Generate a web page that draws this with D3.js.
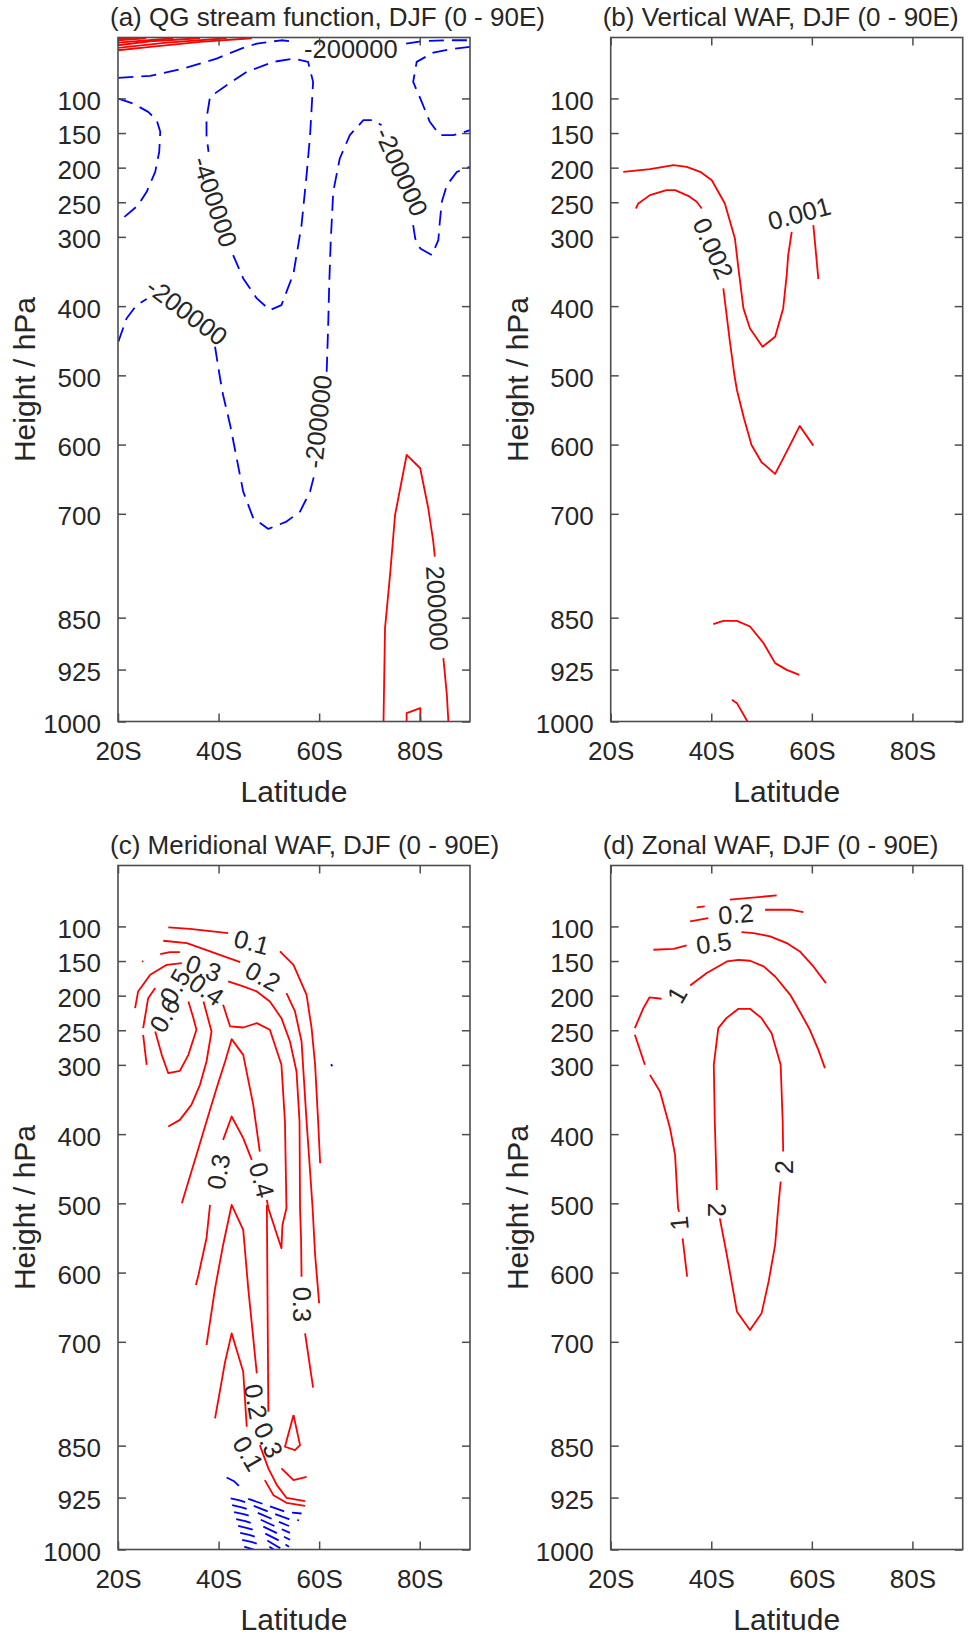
<!DOCTYPE html>
<html>
<head>
<meta charset="utf-8">
<script src="https://cdn.jsdelivr.net/npm/d3@7"></script>
<style>
  html, body { margin: 0; padding: 0; background: #fff; }
  svg { display: block; }
  text { font-family: "Liberation Sans", Arial, Helvetica, sans-serif; fill: #262626; }
</style>
</head>
<body>
<svg id="fig" width="968" height="1635"></svg>
<script>
// ---- axis definitions ----
const pressureTicks = [100, 150, 200, 250, 300, 400, 500, 600, 700, 850, 925, 1000];
const latTicks = [20, 40, 60, 80];
const latTickLabels = ["20S", "40S", "60S", "80S"];
const latRange = [20, 90];
const pressureRange = [12, 1000];

const panelTitles = [
  "(a) QG stream function, DJF (0 - 90E)",
  "(b) Vertical WAF, DJF (0 - 90E)",
  "(c) Meridional WAF, DJF (0 - 90E)",
  "(d) Zonal WAF, DJF (0 - 90E)"
];

// ---- contour lines: level + vertices [latitude (deg S), pressure (hPa)] ----
// (a) QG stream function
const psiLines = [
  { level: 200000,  pts: [[20, 30.4], [26.4, 25.6], [36.3, 18.4], [46.6, 13.1]] },
  { level: 400000,  pts: [[20, 27.0], [29.7, 19.3], [41.6, 13.1]] },
  { level: 600000,  pts: [[20, 23.2], [26.4, 17.4], [36.3, 13.1]] },
  { level: 800000,  pts: [[20, 19.3], [31.0, 13.1]] },
  { level: 1000000, pts: [[20, 16.0], [25.6, 13.1]] },
  { level: 1200000, pts: [[20, 14.0], [23.0, 12.6]] },
  { level: -200000, pts: [[20.07, 70.3], [26.4, 67.4], [33.0, 56.9], [39.6, 42.4], [44.9, 27.0], [47.6, 20.8], [52.5, 16.0], [55.5, 18.5]] },
  { level: -200000, pts: [[77.3, 21.0], [80.4, 17.4], [85.4, 16.0], [90, 16.0]] },
  { level: -200000, pts: [[90, 25.6], [86.0, 29.0], [82.7, 33.8], [79.4, 47.2], [78.7, 76.1], [80.4, 105.0], [82.0, 133.8], [84.0, 153.1], [86.7, 153.1], [90, 145.9]] },
  { level: -200000, pts: [[20.07, 100.2], [23.0, 107.4], [26.0, 119.4], [27.7, 131.4], [28.4, 148.3], [28.2, 177.2], [27.4, 206.0], [25.7, 234.9], [24.0, 254.2], [21.7, 268.6], [20.07, 278.2]] },
  { level: -400000, pts: [[42.9, 326.3], [44.9, 360], [47.6, 388.9], [50.2, 405.7], [52.5, 398.5], [54.9, 352.8], [56.5, 283.0], [57.5, 210.8], [58.2, 153.1], [58.8, 76.1], [57.8, 47.2], [54.9, 42.4], [50.9, 47.2], [45.6, 61.7], [41.6, 80.9], [38.3, 97.8], [37.6, 129.0], [37.6, 153.1], [38.0, 177.2]] },
  { level: -200000, pts: [[20.07, 451.4], [21.7, 417.8], [23.7, 398.5], [25.7, 389.8]] },
  { level: -200000, pts: [[39.3, 458.7], [40.3, 504.4], [40.9, 528.4], [42.3, 571.7], [43.6, 619.8], [44.9, 667.9], [46.9, 706.4], [49.9, 721.8], [53.5, 711.2], [56.2, 696.8], [58.2, 667.9], [59.2, 639.0]] },
  { level: -200000, pts: [[61.5, 494.7], [61.8, 427.4], [62.0, 369.6], [62.3, 307.1], [62.8, 234.9], [64.1, 186.8], [66.1, 153.1], [68.8, 131.4], [70.8, 131.4], [72.4, 138.7]] },
  { level: -200000, pts: [[78.7, 283.0], [79.1, 302.3], [80.1, 316.7], [82.4, 326.3], [83.7, 304.7], [84.0, 278.2], [84.4, 249.3], [85.4, 225.3], [87.4, 206.0], [90, 198.8]] },
  { level: 200000,  pts: [[72.8, 1000], [73.1, 865.2], [74.1, 788.2], [75.1, 701.6], [77.4, 615.0], [80.1, 634.2], [81.7, 692.0], [82.7, 740.1], [83.0, 761.8]] },
  { level: 200000,  pts: [[84.7, 908.5], [85.4, 961.5], [85.7, 1000]] },
  { level: 400000,  pts: [[77.4, 1000], [77.4, 987.9], [80.1, 980.7], [80.2, 1000]] }
];
const psiLabels = [
  { level: -200000, lat: 66.3, p: 28.5, angle: 0 },
  { level: -400000, lat: 39.3, p: 249.3, angle: 72 },
  { level: -200000, lat: 33.7, p: 408.1, angle: 37 },
  { level: -200000, lat: 59.8, p: 566.9, angle: -84 },
  { level: -200000, lat: 76.4, p: 206.0, angle: 66 },
  { level: 200000,  lat: 83.5, p: 836.3, angle: 87 }
];

// (b) vertical wave-activity flux
const fzLines = [
  { level: 0.001, pts: [[22.5, 206.0], [27.8, 202.2], [32.5, 196.4], [35.1, 198.8], [37.8, 206.0], [40.1, 218.1], [42.7, 251.7], [44.7, 302.3], [45.4, 345.6], [46.4, 403.3], [47.7, 432.2], [50.2, 458.7], [52.7, 444.2], [54.3, 403.3], [55.0, 355.2], [55.3, 326.3], [56.0, 292.6]] },
  { level: 0.001, pts: [[60.3, 283.0], [61.3, 361.0]] },
  { level: 0.002, pts: [[25.0, 259], [25.5, 251.7], [27.8, 239.7], [31.1, 232.5], [32.8, 232.5], [35.4, 240.7], [37.1, 249.3], [38.1, 259.0]] },
  { level: 0.002, pts: [[42.4, 374.5], [43.7, 451.4], [44.6, 499.5], [45.1, 521.2], [46.5, 562.1], [48.0, 600.6], [50.0, 625.6], [52.7, 642.4], [55.0, 610.2], [57.6, 573.1], [60.3, 601.5]] },
  { level: 0.001, pts: [[40.4, 859.4], [42.4, 854.6], [45.1, 854.6], [47.7, 862.8], [50.4, 886.9], [52.7, 915.7], [55.0, 925.4], [57.5, 932.6]] },
  { level: 0.001, pts: [[44.1, 968.7], [45.1, 973.5], [47.2, 1000]] }
];
const fzLabels = [
  { level: 0.001, lat: 57.5, p: 266.2, angle: -15 },
  { level: 0.002, lat: 40.4, p: 316.7, angle: 66 }
];

// (c) meridional wave-activity flux
const fyLines = [
  { level: 0.1, pts: [[30.0, 101.4], [34.3, 103.4], [41.9, 109.6]] },
  { level: 0.1, pts: [[52.2, 136.1], [54.9, 155.4], [57.5, 198.8], [58.5, 246.9], [59.2, 299.9], [59.8, 381.8], [60.2, 442.1]] },
  { level: 0.2, pts: [[29.0, 120.7], [33.7, 124.1], [38.3, 136.1], [44.3, 151.5]] },
  { level: 0.2, pts: [[53.5, 196.3], [55.2, 222.8], [56.5, 266.2], [57.0, 324.0], [57.5, 381.8], [58.2, 454.1], [58.7, 507.1], [59.2, 574.6], [60.0, 644.4]] },
  { level: 0.3, pts: [[28.4, 140.0], [30.3, 137.1], [32.3, 137.1]] },
  { level: 0.3, pts: [[41.9, 179.5], [44.9, 186.7], [47.6, 193.9], [50.2, 208.4], [52.5, 232.5], [54.2, 266.2], [55.5, 309.6], [56.1, 381.8], [56.2, 507.1], [56.4, 550.5], [56.5, 605.9]] },
  { level: 0.3, pts: [[57.2, 687.8], [58.8, 766.3]] },
  { level: 0.5, pts: [[23.4, 218.0], [24.0, 193.9], [26.4, 169.8], [29.7, 155.4], [32.7, 153.0]] },
  { level: 0.5, pts: [[24.8, 149.8], [25.0, 151.2]] },
  { level: 0.6, pts: [[25.0, 246.9], [26.0, 203.6], [27.4, 189.1]] },
  { level: 0.6, pts: [[25.0, 256.6], [25.7, 299.9]] },
  { level: 0.7, pts: [[34.0, 208.4], [35.0, 232.5], [35.6, 249.3], [34.0, 285.5], [32.3, 308.6], [30.0, 312.0], [28.7, 285.5], [27.4, 251.8]] },
  { level: 0.4, pts: [[37.0, 208.4], [38.6, 251.8], [37.6, 295.1], [36.3, 328.8], [34.6, 357.8], [32.3, 379.4], [30.0, 389.1]] },
  { level: 0.4, pts: [[40.9, 213.2], [42.3, 244.5], [44.9, 246.0], [47.6, 239.7], [50.2, 249.3], [52.5, 299.9], [53.2, 381.8], [53.5, 507.1], [52.7, 531.2], [52.5, 564.9], [49.9, 507.1], [49.6, 495]] },
  { level: 0.4, pts: [[32.7, 499.9], [34.0, 468.6], [35.6, 430.0], [37.6, 381.8], [39.6, 333.7], [41.3, 295.1], [42.6, 262.8], [44.9, 285.5], [46.9, 357.8], [48.2, 425.2]] },
  { level: 0.3, pts: [[40.9, 408.3], [42.6, 374.6], [44.9, 405.9], [46.6, 437.2]] },
  { level: 0.3, pts: [[38.3, 502.3], [37.6, 550.5], [36.0, 603.5], [35.5, 618.0]] },
  { level: 0.2, pts: [[37.6, 704.7], [39.3, 622.8], [40.9, 560.1], [42.6, 502.3], [44.9, 538.4], [45.9, 622.8], [46.9, 695.0], [47.6, 745.6]] },
  { level: 0.2, pts: [[39.3, 810.7], [41.3, 728.7], [42.6, 687.8], [44.9, 743.2], [45.6, 822.7]] },
  { level: 0.3, pts: [[49.6, 502.3], [49.9, 801.0]] },
  { level: 0.1, pts: [[48.2, 849.2], [49.9, 882.9], [51.6, 907.0], [53.5, 925.3], [57.2, 930.1]] },
  { level: 0.1, pts: [[49.2, 899.8], [50.9, 921.5], [53.5, 932.5], [57.2, 936.9]] },
  { level: 0.3, pts: [[54.9, 805.8], [56.2, 849.2], [55.2, 856.4], [53.2, 851.6], [54.9, 805.8]] },
  { level: 0.2, pts: [[52.5, 882.9], [54.9, 899.8], [57.5, 895.0]] },
  // negative (equatorward) flux near the surface
  { level: -0.1, pts: [[62.4, 299], [62.6, 302]] },
  { level: -0.1, pts: [[41.6, 896.0], [43.0, 901.0], [44.6, 911.9]] },
  { level: -0.2, pts: [[42.4, 926], [44.2, 929], [46.0, 933]] },
  { level: -0.3, pts: [[42.7, 936], [44.6, 939], [46.4, 943]] },
  { level: -0.4, pts: [[43.1, 946], [45.0, 949], [46.8, 953]] },
  { level: -0.5, pts: [[43.5, 956], [45.3, 959], [47.1, 963]] },
  { level: -0.6, pts: [[43.9, 966], [45.7, 969], [47.5, 973]] },
  { level: -0.7, pts: [[44.3, 976], [46.1, 979], [47.9, 983]] },
  { level: -0.8, pts: [[44.7, 986], [46.5, 989], [48.3, 993]] },
  { level: -0.9, pts: [[45.1, 996], [46.5, 999], [47.0, 1000]] },
  { level: -0.2, pts: [[45.9, 927], [50.0, 937], [53.5, 946], [56.5, 948]] },
  { level: -0.3, pts: [[47.0, 937], [50.5, 947], [54.0, 956], [56.0, 958]] },
  { level: -0.4, pts: [[47.8, 947], [51.0, 957], [54.0, 966]] },
  { level: -0.5, pts: [[48.4, 957], [51.4, 967], [54.2, 976]] },
  { level: -0.6, pts: [[48.9, 967], [51.8, 977], [54.2, 986]] },
  { level: -0.7, pts: [[49.3, 977], [52.0, 987], [54.0, 996]] },
  { level: -0.8, pts: [[49.7, 987], [52.0, 997], [52.8, 1000]] },
  { level: -0.9, pts: [[50.1, 996], [51.0, 1000]] }
];
const fyLabels = [
  { level: 0.1, lat: 46.6, p: 122.6, angle: 15 },
  { level: 0.2, lat: 48.8, p: 172.3, angle: 28 },
  { level: 0.3, lat: 37.0, p: 160.2, angle: 20 },
  { level: 0.4, lat: 37.6, p: 191.5, angle: 35 },
  { level: 0.5, lat: 31.3, p: 186.7, angle: -60 },
  { level: 0.6, lat: 29.3, p: 227.7, angle: -60 },
  { level: 0.3, lat: 56.5, p: 645.9, angle: 90 },
  { level: 0.3, lat: 40.0, p: 454.2, angle: -80 },
  { level: 0.4, lat: 48.6, p: 466.2, angle: 75 },
  { level: 0.2, lat: 47.4, p: 786.6, angle: 80 },
  { level: 0.3, lat: 49.9, p: 842.0, angle: 65 },
  { level: 0.1, lat: 45.9, p: 861.3, angle: 60 }
];

// (d) zonal wave-activity flux
const fxLines = [
  { level: 0.2, pts: [[43.7, 61.4], [53.0, 55.2]] },
  { level: 0.2, pts: [[37.1, 72.5], [38.7, 71.1]] },
  { level: 0.2, pts: [[35.8, 92.8], [39.4, 87.9]] },
  { level: 0.2, pts: [[50.7, 75.9], [55.7, 75.9], [58.3, 79.3]] },
  { level: 0.5, pts: [[28.5, 133.7], [32.5, 132.3], [35.1, 127.4]] },
  { level: 0.5, pts: [[46.0, 108.2], [48.4, 109.6], [51.7, 114.4], [55.0, 124.1], [57.6, 136.1], [60.3, 157.8], [62.8, 181.9]] },
  { level: 1, pts: [[30.1, 204.5], [27.7, 202.6], [26.5, 218.0], [24.8, 246.9]] },
  { level: 1, pts: [[24.8, 256.6], [26.8, 299.9]] },
  { level: 1, pts: [[27.8, 314.4], [29.8, 338.5], [31.8, 391.5], [32.8, 430.0], [33.4, 507.1], [33.6, 512]] },
  { level: 1, pts: [[34.3, 550.5], [35.2, 605.9]] },
  { level: 1, pts: [[35.8, 185.3], [39.1, 167.4], [43.1, 150.6], [45.4, 148.2], [47.7, 149.6], [50.4, 157.8], [52.7, 172.3], [55.7, 198.8], [57.6, 222.8], [59.6, 249.3], [61.3, 278.3], [62.6, 304.7]] },
  { level: 2, pts: [[41.1, 480.6], [40.7, 381.8], [40.5, 299.9], [41.4, 246.9], [43.0, 232.5], [45.4, 219.0], [47.7, 219.0], [50.0, 232.5], [52.0, 254.2], [53.8, 299.9], [54.2, 381.8], [54.3, 425.2]] },
  { level: 2, pts: [[53.8, 468.6], [53.3, 507.1], [52.7, 560.1], [51.4, 613.1], [50.0, 658.9], [47.7, 683.0], [45.1, 656.5], [43.1, 574.6], [41.7, 521.6]] }
];
const fxLabels = [
  { level: 0.2, lat: 44.9, p: 82.2, angle: -5 },
  { level: 0.5, lat: 40.5, p: 124.1, angle: -8 },
  { level: 1, lat: 33.2, p: 198.8, angle: -60 },
  { level: 1, lat: 33.6, p: 528.8, angle: -95 },
  { level: 2, lat: 54.5, p: 447.8, angle: -90 },
  { level: 2, lat: 41.2, p: 509.5, angle: 90 }
];

// ---- layout ----
const svg = d3.select("#fig");
const W = 352, H = 684;
const colX = [118, 610.7];
const rowY = [37.5, 865.5];

const x = d3.scaleLinear().domain(latRange).range([0, W]);
const y = d3.scaleLinear().domain(pressureRange).range([0, H]);

const line = d3.line().x(d => x(d[0])).y(d => y(d[1]));

const panelData = [
  { lines: psiLines, labels: psiLabels },
  { lines: fzLines, labels: fzLabels },
  { lines: fyLines, labels: fyLabels },
  { lines: fxLines, labels: fxLabels }
];

const axisColor = "#4d4d4d";
const tickFont = 26;

panelData.forEach((pd, i) => {
  const col = i % 2, row = Math.floor(i / 2);
  const g = svg.append("g").attr("transform", `translate(${colX[col]},${rowY[row]})`);

  // title
  svg.append("text")
    .attr("x", colX[col] - 8)
    .attr("y", rowY[row] - 12)
    .attr("font-size", 26)
    .text(panelTitles[i]);

  const clipId = "clip" + i;
  g.append("clipPath").attr("id", clipId)
    .append("rect").attr("width", W).attr("height", H);

  const plot = g.append("g").attr("clip-path", `url(#${clipId})`);

  plot.selectAll("path.contour")
    .data(pd.lines)
    .join("path")
    .attr("class", "contour")
    .attr("d", d => line(d.pts))
    .attr("fill", "none")
    .attr("stroke", d => d.level < 0 ? "#0000ff" : "#ff0000")
    .attr("stroke-width", 1.8)
    .attr("stroke-linejoin", "round")
    .attr("stroke-dasharray", d => d.level < 0 ? "15,8" : null);

  plot.selectAll("text.clabel")
    .data(pd.labels)
    .join("text")
    .attr("class", "clabel")
    .attr("transform", d => `translate(${x(d.lat)},${y(d.p)}) rotate(${d.angle})`)
    .attr("text-anchor", "middle")
    .attr("dominant-baseline", "central")
    .attr("font-size", 25.5)
    .attr("fill", "#000")
    .text(d => String(d.level));

  // axes (ticks point inward)
  const left = d3.axisLeft(y).tickValues(pressureTicks).tickSizeInner(-8).tickSizeOuter(0).tickPadding(17)
    .tickFormat(d => String(d));
  const right = d3.axisRight(y).tickValues(pressureTicks).tickSizeInner(-8).tickSizeOuter(0).tickFormat("");
  const bottom = d3.axisBottom(x).tickValues(latTicks).tickSizeInner(-8).tickSizeOuter(0).tickPadding(20)
    .tickFormat((d, k) => latTickLabels[k]);
  const top = d3.axisTop(x).tickValues(latTicks).tickSizeInner(-8).tickSizeOuter(0).tickFormat("");

  const styleAxis = sel => {
    sel.select(".domain").remove();
    sel.selectAll("line").attr("stroke", axisColor).attr("stroke-width", 1.5);
    sel.selectAll("text").attr("font-size", tickFont).attr("fill", "#262626")
      .attr("font-family", '"Liberation Sans", Arial, sans-serif');
  };
  g.append("g").call(left).call(styleAxis)
    .selectAll("text").attr("dy", "0.42em");
  g.append("g").attr("transform", `translate(${W},0)`).call(right).call(styleAxis);
  g.append("g").attr("transform", `translate(0,${H})`).call(bottom).call(styleAxis);
  g.append("g").call(top).call(styleAxis);

  g.append("rect").attr("width", W).attr("height", H)
    .attr("fill", "none").attr("stroke", axisColor).attr("stroke-width", 1.6);

  // axis titles
  g.append("text")
    .attr("x", W / 2).attr("y", H + 80)
    .attr("text-anchor", "middle").attr("font-size", 30)
    .text("Latitude");
  g.append("text")
    .attr("transform", `translate(-83,${H / 2}) rotate(-90)`)
    .attr("text-anchor", "middle").attr("font-size", 30)
    .text("Height / hPa");
});
</script>
</body>
</html>
